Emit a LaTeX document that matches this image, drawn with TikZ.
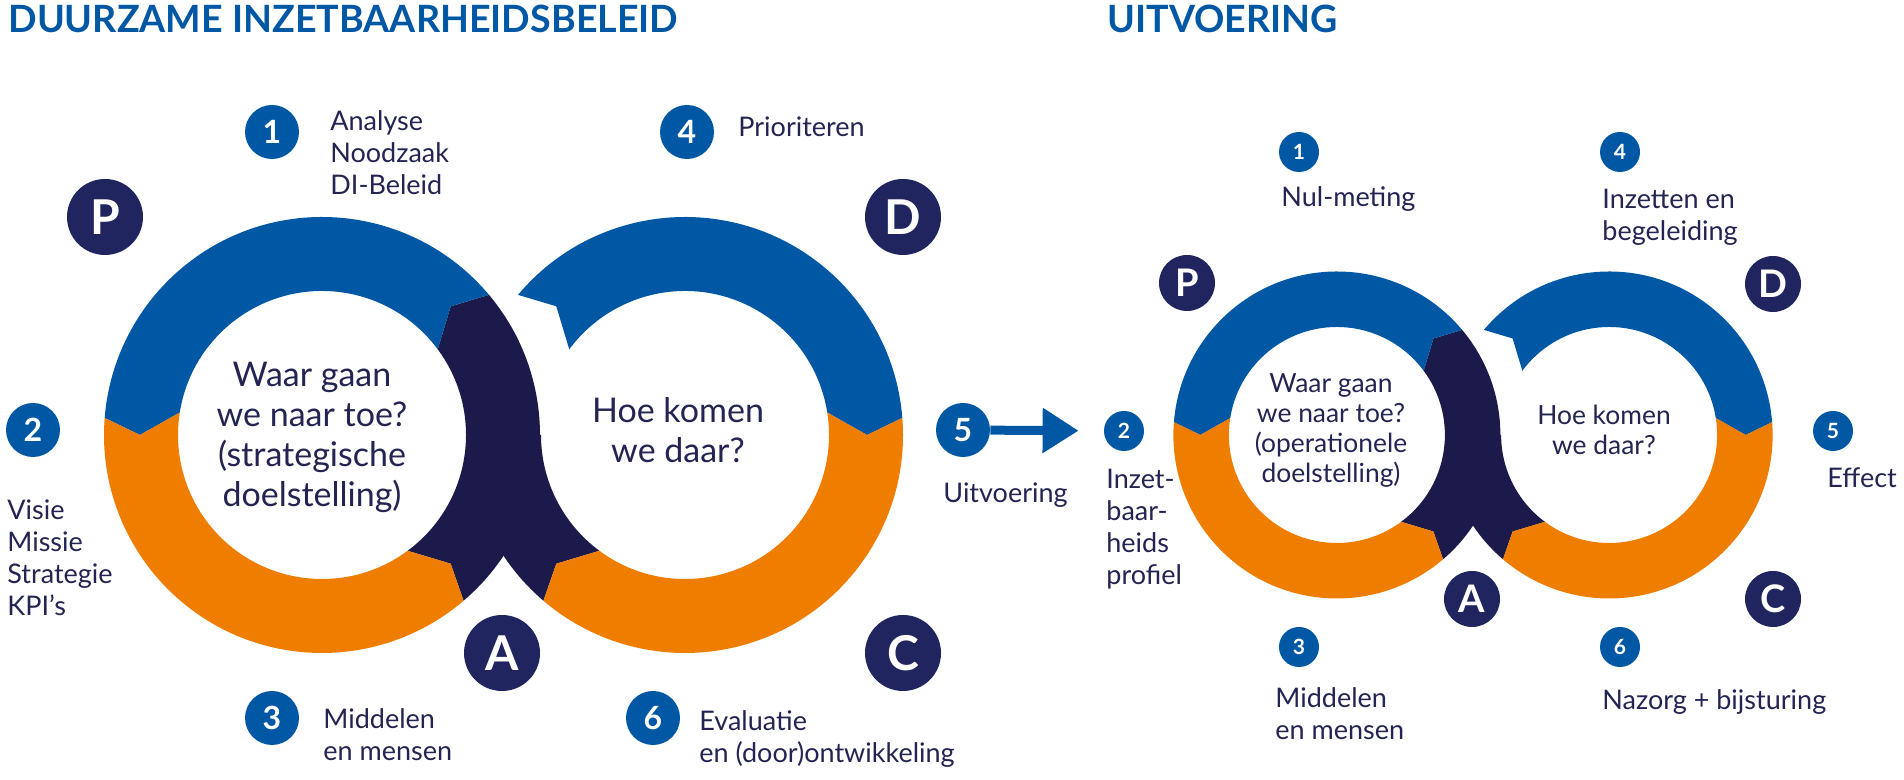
\documentclass[tikz,border=0pt]{standalone}
\usepackage{fontspec}
\setmainfont{Lato}
\usetikzlibrary{arrows.meta}
\definecolor{dblue}{HTML}{0057A4}
\definecolor{dorange}{HTML}{EE7D00}
\definecolor{dnavy}{HTML}{1B1A4A}
\definecolor{lnavy}{HTML}{20255F}
\definecolor{tnavy}{HTML}{232452}

\newcommand{\ringpair}{%
\begin{scope}[shift={(-181.5,0)}]
\fill[dnavy] (-49.5:218) arc[start angle=-49.5,end angle=40,radius=218] -- (45:182) -- (36.5:144) arc[start angle=36.5,end angle=-53.5,radius=144] -- (-45:182) -- cycle;
\fill[dblue] (40:218) arc[start angle=40,end angle=175.5,radius=218] -- (180:182) -- (171:144) arc[start angle=171,end angle=36.5,radius=144] -- (45:182) -- cycle;
\fill[dorange] (175.5:218) arc[start angle=175.5,end angle=310.5,radius=218] -- (315:182) -- (306.5:144) arc[start angle=306.5,end angle=171,radius=144] -- (180:182) -- cycle;
\end{scope}
\begin{scope}[shift={(181.5,0)}]
\fill[dnavy] (180:218) arc[start angle=180,end angle=229.5,radius=218] -- (225:182) -- (233.5:144) arc[start angle=233.5,end angle=180,radius=144] -- cycle;
\fill[dblue] (140:218) arc[start angle=140,end angle=4.5,radius=218] -- (0:182) -- (9:144) arc[start angle=9,end angle=143.5,radius=144] -- (135:182) -- cycle;
\fill[dorange] (4.5:218) arc[start angle=4.5,end angle=-130.5,radius=218] -- (225:182) -- (-126.5:144) arc[start angle=-126.5,end angle=9,radius=144] -- (0:182) -- cycle;
\end{scope}}

\begin{document}
\begin{tikzpicture}
[x=0.5pt,y=0.5pt,
letter/.style={circle,fill=lnavy,text=white,inner sep=0pt,minimum size=38pt,font=\bfseries\fontsize{24}{24}\selectfont},
sletter/.style={letter,minimum size=28pt,font=\bfseries\fontsize{19}{19}\selectfont},
num/.style={circle,fill=dblue,text=white,inner sep=0pt,minimum size=27pt,font=\bfseries\fontsize{16}{16}\selectfont},
snum/.style={num,minimum size=20pt,font=\bfseries\fontsize{10.5}{10.5}\selectfont},
lbl/.style={anchor=base west,align=left,inner sep=0pt,text=tnavy,font=\fontsize{13.5}{16}\selectfont},
mid/.style={anchor=base,align=center,inner sep=0pt,text=tnavy,font=\fontsize{17}{20}\selectfont},
smid/.style={mid,font=\fontsize{13.2}{15}\selectfont},
ttl/.style={anchor=base west,inner sep=0pt,text=dblue,font=\bfseries\fontsize{18.8}{20}\selectfont}
]
\useasboundingbox (0,0) rectangle (1904,780);

\begin{scope}[shift={(503.5,345)}]
\ringpair
\end{scope}
\begin{scope}[shift={(1473,345)},scale=0.75]
\ringpair
\end{scope}

\node[ttl] (h1) at (8,747) {DUURZAME INZETBAARHEIDSBELEID};
\node[ttl] (h2) at (1107,747) {UITVOERING};

\node[mid] (q1) at (312,273) {Waar gaan\\we naar toe?\\(strategische\\doelstelling)};
\node[mid] (q2) at (678,317) {Hoe komen\\we daar?};
\node[smid] (r1) at (1331,297) {Waar gaan\\we naar toe?\\(operationele\\doelstelling)};
\node[smid] (r2) at (1604,325) {Hoe komen\\we daar?};

\node[letter] (pP) at (105,563) {P};
\node[letter] (pD) at (903,563) {D};
\node[letter] (pA) at (502,127) {A};
\node[letter] (pC) at (903,127) {C};
\node[sletter] (sP) at (1187,497) {P};
\node[sletter] (sD) at (1773,496) {D};
\node[sletter] (sA) at (1472,181) {A};
\node[sletter] (sC) at (1773,181) {C};

\node[num] (n1) at (272,648) {1};
\node[num] (n2) at (33,350) {2};
\node[num] (n3) at (272,62) {3};
\node[num] (n4) at (687,648) {4};
\node[num] (n5) at (963,350) {5};
\node[num] (n6) at (653,62) {6};
\node[snum] (m1) at (1299,628) {1};
\node[snum] (m2) at (1124,349) {2};
\node[snum] (m3) at (1299,133) {3};
\node[snum] (m4) at (1620,628) {4};
\node[snum] (m5) at (1833,349) {5};
\node[snum] (m6) at (1620,133) {6};

\node[lbl] (t1) at (330,585) {Analyse\\Noodzaak\\DI-Beleid};
\node[lbl] (t2) at (7,164) {Visie\\Missie\\Strategie\\KPI’s};
\node[lbl] (t3) at (323,19) {Middelen\\en mensen};
\node[lbl] (t4) at (738,643) {Prioriteren};
\node[lbl] (t5) at (943,277) {Uitvoering};
\node[lbl] (t6) at (699,17) {Evaluatie\\en (door)ontwikkeling};
\node[lbl] (u1) at (1281,573) {Nul-meting};
\node[lbl] (u2) at (1106,195) {Inzet-\\baar-\\heids\\profiel};
\node[lbl] (u3) at (1275,40) {Middelen\\en mensen};
\node[lbl] (u4) at (1602,539) {Inzetten en\\begeleiding};
\node[lbl] (u5) at (1827,292) {Effect};
\node[lbl] (u6) at (1602,70) {Nazorg + bijsturing};

\draw[dblue,line width=4.5pt,-{Triangle[length=18pt,width=21.5pt]},shorten >=12.5pt] (n5) -- (m2);
\end{tikzpicture}
\end{document}
